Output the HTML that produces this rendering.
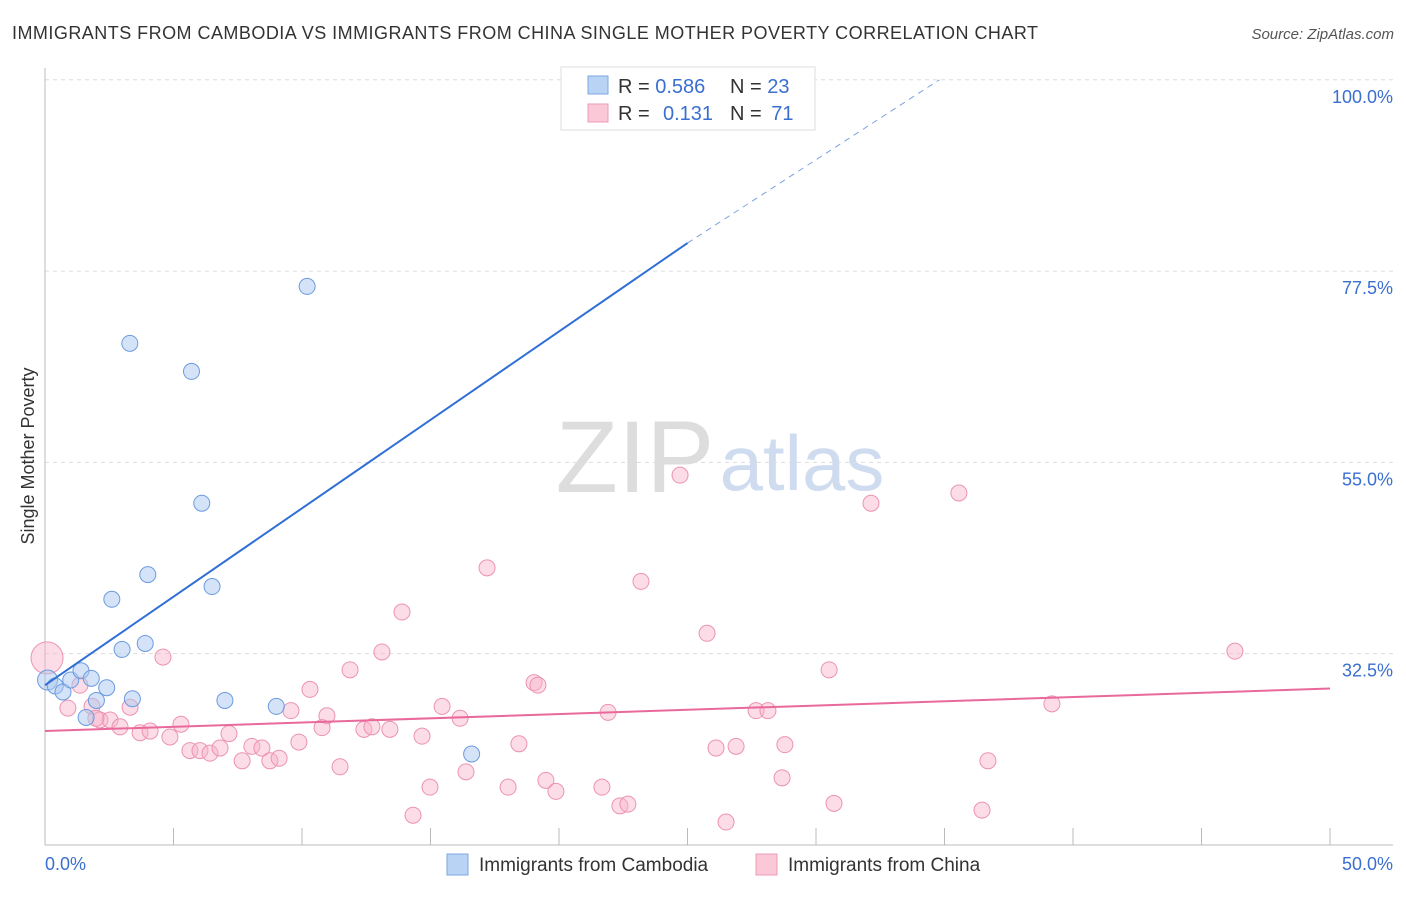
<!DOCTYPE html>
<html><head><meta charset="utf-8"><style>
body{margin:0;background:#fff;font-family:"Liberation Sans",sans-serif;}
svg text{font-family:"Liberation Sans",sans-serif;}
</style></head><body>
<svg id="c" width="1406" height="892" xmlns="http://www.w3.org/2000/svg">
<text x="12" y="39" font-size="18" fill="#333" textLength="1026">IMMIGRANTS FROM CAMBODIA VS IMMIGRANTS FROM CHINA SINGLE MOTHER POVERTY CORRELATION CHART</text>
<text x="1394" y="39" font-size="15" fill="#555" font-style="italic" text-anchor="end">Source: ZipAtlas.com</text>
<text x="635" y="492" font-size="102" fill="#ddd" font-family="Liberation Serif" text-anchor="middle">ZIP</text>
<text x="802" y="490" font-size="78" fill="#cfdcf0" text-anchor="middle">atlas</text>
<text x="34" y="456" font-size="18" fill="#333" transform="rotate(-90 34 456)" text-anchor="middle">Single Mother Poverty</text>
<g id="grid"></g><g id="pts"></g><g id="lines"></g>
<rect x="561" y="67" width="254" height="63" fill="#fff" stroke="#ddd"/>
<rect x="588" y="76" width="20" height="18" fill="#b9d3f5" stroke="#7da7e0"/>
<rect x="588" y="104" width="20" height="18" fill="#fbc8d8" stroke="#ec9cb6"/>
<text x="618" y="93" font-size="20" fill="#333">R = <tspan fill="#3a6fd0">0.586</tspan><tspan x="730">N = </tspan><tspan fill="#3a6fd0">23</tspan></text>
<text x="618" y="120" font-size="20" fill="#333">R = <tspan fill="#3a6fd0" x="663">0.131</tspan><tspan x="730">N = </tspan><tspan fill="#3a6fd0" dx="4">71</tspan></text>
<rect x="447" y="854" width="21" height="21" fill="#b9d3f5" stroke="#7da7e0"/>
<text x="479" y="871" font-size="19" fill="#333">Immigrants from Cambodia</text>
<rect x="756" y="854" width="21" height="21" fill="#fbc8d8" stroke="#ec9cb6"/>
<text x="788" y="871" font-size="19" fill="#333">Immigrants from China</text>
</svg>
<script>
const yTicks=[100,77.5,55,32.5];
const yTickLabels=["100.0%","77.5%","55.0%","32.5%"];
const xTickLabels=["0.0%","50.0%"];
const cambX=[0.1,0.4,0.7,1.0,1.4,1.6,1.8,2.0,2.4,2.6,3.0,3.3,3.4,3.9,4.0,5.7,6.1,6.5,7.0,9.0,10.2,16.6,24.6];
const cambY=[29.4,28.7,28.0,29.4,30.5,25.0,29.6,27.0,28.5,38.9,33.0,69.0,27.2,33.7,41.8,65.7,50.2,40.4,27.0,26.3,75.7,20.7,100];
const chinaX=[0.08,0.89,1.36,1.83,2.14,2.53,2.92,3.31,3.70,4.09,4.59,4.86,5.29,5.64,6.03,6.42,6.81,7.16,7.67,8.05,8.44,8.75,9.11,9.57,9.88,10.31,10.97,10.78,11.48,11.87,12.41,12.72,13.11,13.42,13.89,14.32,14.67,14.98,15.45,16.15,16.38,17.2,18.02,18.44,19.03,19.18,19.49,19.88,21.67,21.91,22.37,22.68,23.19,24.71,25.76,26.11,26.5,26.89,27.67,28.13,28.68,28.79,30.51,30.7,32.14,35.56,36.46,36.69,39.18,46.3,1.98];
const chinaY=[32.0,26.1,28.8,26.3,24.7,24.7,23.9,26.2,23.2,23.4,32.1,22.7,24.2,21.1,21.1,20.8,21.4,23.1,19.9,21.6,21.4,19.9,20.2,25.8,22.1,28.3,25.2,23.8,19.2,30.6,23.6,23.9,32.7,23.6,37.4,13.5,22.8,16.8,26.3,24.9,18.6,42.6,16.8,21.9,29.1,28.8,17.6,16.3,16.8,25.6,14.6,14.8,41.0,53.5,34.9,21.4,12.7,21.6,25.8,25.8,17.9,21.8,30.6,14.9,50.2,51.4,14.1,19.9,26.6,32.8,24.9];
const NS="http://www.w3.org/2000/svg";
const X=v=>45+v*25.7, Y=v=>930-v*8.502;
function mk(tag,attrs,parent){const e=document.createElementNS(NS,tag);for(const k in attrs)e.setAttribute(k,attrs[k]);parent.appendChild(e);return e;}
const grid=document.getElementById('grid'),pts=document.getElementById('pts'),lines=document.getElementById('lines');
yTicks.forEach((t,i)=>{
 const l=mk('line',{x1:45,x2:1393,y1:Y(t),y2:Y(t),stroke:'#ddd','stroke-dasharray':'4 4'},grid);
 
 
 const tx=mk('text',{x:1393,y:Y(t)+23,'font-size':18,fill:'#3a6fd0','text-anchor':'end'},grid);tx.textContent=yTickLabels[i];
 
 
});
const ax=mk('line',{x1:45,x2:1393,y1:845,y2:845,stroke:'#bbb'},grid);


const ay=mk('line',{x1:45,x2:45,y1:68,y2:845,stroke:'#bbb'},grid);


for(let i=0;i<=10;i++){const t=mk('line',{x1:X(i*5),x2:X(i*5),y1:828,y2:845,stroke:'#bbb'},grid);
 
 }
[[0,'start',45],[50,'end',1393]].forEach((d,i)=>{const t=mk('text',{x:d[2],y:870,'font-size':18,fill:'#3a6fd0','text-anchor':d[1]},grid);t.textContent=xTickLabels[i];
 
 });
chinaX.forEach((x,i)=>{const r=i==0?16:8;const c=mk('circle',{cx:X(x),cy:Y(chinaY[i]),r:r,fill:'rgba(248,180,202,0.45)',stroke:'#ec93b0','stroke-width':1},pts);
 
 });
cambX.forEach((x,i)=>{const r=i==0?10:8;const c=mk('circle',{cx:X(x),cy:Y(cambY[i]),r:r,fill:'rgba(170,200,240,0.5)',stroke:'#6c9be0','stroke-width':1},pts);
 
 });
const b1=mk('line',{x1:X(0),y1:Y(28.8),x2:X(25),y2:Y(80.8),stroke:'#2f6fd6','stroke-width':2},lines);


const b2=mk('line',{x1:X(25),y1:Y(80.8),x2:X(34.8),y2:Y(100),stroke:'#7aa3e0','stroke-width':1,'stroke-dasharray':'6 5'},lines);


const p1=mk('line',{x1:X(0),y1:Y(23.4),x2:X(50),y2:Y(28.4),stroke:'#e8699a','stroke-width':2},lines);


</script>
</body></html>
